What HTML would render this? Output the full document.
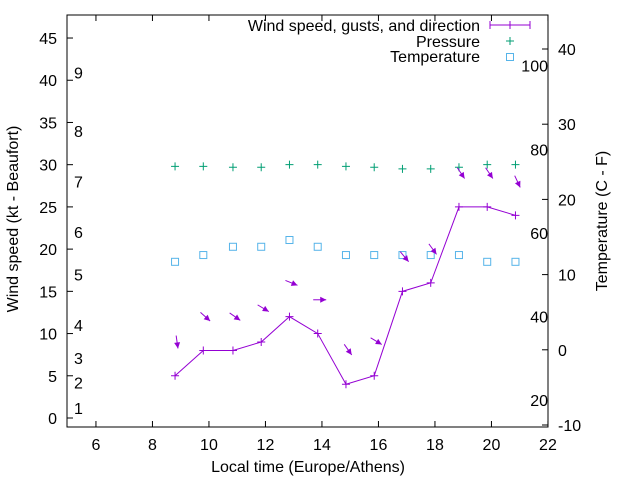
<!DOCTYPE html>
<html><head><meta charset="utf-8"><style>
body{margin:0;background:#fff}
svg text{font-family:"Liberation Sans",sans-serif;font-size:16px;fill:#000}
</style></head><body>
<svg id="chart" width="640" height="480" xmlns="http://www.w3.org/2000/svg">
</svg>
<script>
const hours=[8.8,9.8,10.85,11.85,12.85,13.85,14.85,15.85,16.85,17.85,18.85,19.85,20.85];
const windSpeed=[5,8,8,9,12,10,4,5,15,16,25,25,24];
const pressure=[29.8,29.8,29.7,29.7,30.0,30.0,29.8,29.7,29.5,29.5,29.7,30.0,30.0];
const temperature=[11.7,12.6,13.7,13.7,14.6,13.7,12.6,12.6,12.6,12.6,12.6,11.7,11.7];
const arrowY=[9.0,12.0,12.0,13.0,16.0,14.0,8.1,9.1,19.1,20.0,29.0,29.0,28.0];
const arrowDir=[82,42,35,31,22,0,55,31,50,54,56,56,65];
const xTicks=[6,8,10,12,14,16,18,20,22];
const yTicks=[0,5,10,15,20,25,30,35,40,45];
const y2Ticks=[-10,0,10,20,30,40];
const beaufort=[[1,1.2],[2,4.2],[3,7.1],[4,11.0],[5,17.0],[6,22.0],[7,28.0],[8,34.0],[9,40.9]];
const fahr=[100,80,60,40,20];

const L=67,R=548,T=15,B=427;
const X=v=>67.7+(v-5)*28.25;
const Y=v=>418-v*8.444;
const Y2=v=>349.8-v*7.52;
const svg=document.getElementById('chart');
const NS='http://www.w3.org/2000/svg';
function mk(t,a,txt){const e=document.createElementNS(NS,t);for(const k in a)e.setAttribute(k,a[k]);if(txt!==undefined)e.textContent=txt;svg.appendChild(e);return e;}

let e=mk('rect',{x:L,y:T,width:R-L,height:B-T,fill:'none',stroke:'#000','stroke-width':1});


xTicks.forEach(v=>{
 mk('line',{x1:X(v),x2:X(v),y1:B,y2:B-6,stroke:'#000'});
 mk('line',{x1:X(v),x2:X(v),y1:T,y2:T+6,stroke:'#000'});
 const t=mk('text',{x:X(v),y:B+23,'text-anchor':'middle'},v);
 
 
});
yTicks.forEach(v=>{
 mk('line',{x1:L,x2:L+6,y1:Y(v),y2:Y(v),stroke:'#000'});
 const t=mk('text',{x:L-10,y:Y(v)+6,'text-anchor':'end'},v);
 
 
});
y2Ticks.forEach(v=>{
 mk('line',{x1:R,x2:R-6,y1:Y2(v),y2:Y2(v),stroke:'#000'});
 const t=mk('text',{x:R+10,y:Y2(v)+6,'text-anchor':'start'},v);
 
 
});
beaufort.forEach(b=>{
 const t=mk('text',{x:74,y:Y(b[1])+6},b[0]);
 
 
});
fahr.forEach(f=>{
 const t=mk('text',{x:548,y:Y2((f-32)*5/9)+6,'text-anchor':'end'},f);
 
 
});
e=mk('text',{x:308,y:472,'text-anchor':'middle'},'Local time (Europe/Athens)');


e=mk('text',{x:18,y:219,'text-anchor':'middle',transform:'rotate(-90 18 219)'},'Wind speed (kt - Beaufort)');


e=mk('text',{x:607,y:221,'text-anchor':'middle',transform:'rotate(-90 607 221)'},'Temperature (C - F)');



const purple='#9400d3',green='#009e73',blue='#56b4e9';
function plus(x,y,c,s){mk('path',{d:`M${x-s} ${y}H${x+s}M${x} ${y-s}V${y+s}`,stroke:c,'stroke-width':1,fill:'none'});}
e=mk('polyline',{points:hours.map((h,i)=>X(h)+','+Y(windSpeed[i])).join(' '),fill:'none',stroke:purple,'stroke-width':1});


hours.forEach((h,i)=>plus(X(h),Y(windSpeed[i]),purple,4));
hours.forEach((h,i)=>plus(X(h),Y(pressure[i]),green,4));
hours.forEach((h,i)=>{
 const r=mk('rect',{x:X(h)-3.5,y:Y2(temperature[i])-3.5,width:7,height:7,fill:'none',stroke:blue,'stroke-width':1});
 
 
});
hours.forEach((h,i)=>{
 const a=arrowDir[i]*Math.PI/180,cx=X(h)+2,cy=Y(arrowY[i]),len=13;
 const dx=Math.cos(a),dy=Math.sin(a);
 const x1=cx-dx*len/2,y1=cy-dy*len/2,x2=cx+dx*len/2,y2=cy+dy*len/2;
 const g=mk('g',{});
 
 
 const l=document.createElementNS(NS,'line');
 l.setAttribute('x1',x1);l.setAttribute('y1',y1);l.setAttribute('x2',x2);l.setAttribute('y2',y2);l.setAttribute('stroke',purple);
 g.appendChild(l);
 const hx=x2-dx*6,hy=y2-dy*6,px=-dy*3,py=dx*3;
 const p=document.createElementNS(NS,'polygon');
 p.setAttribute('points',`${x2},${y2} ${hx+px},${hy+py} ${hx-px},${hy-py}`);p.setAttribute('fill',purple);
 g.appendChild(p);
});
e=mk('text',{x:480,y:31,'text-anchor':'end'},'Wind speed, gusts, and direction');


mk('path',{d:'M490 25H530M490 21V29M530 21V29M510 21V29',stroke:purple,fill:'none'});
e=mk('text',{x:480,y:47,'text-anchor':'end'},'Pressure');


plus(510,41,green,4);
e=mk('text',{x:480,y:62,'text-anchor':'end'},'Temperature');


mk('rect',{x:506.5,y:53.5,width:7,height:7,fill:'none',stroke:blue});
</script>
</body></html>
